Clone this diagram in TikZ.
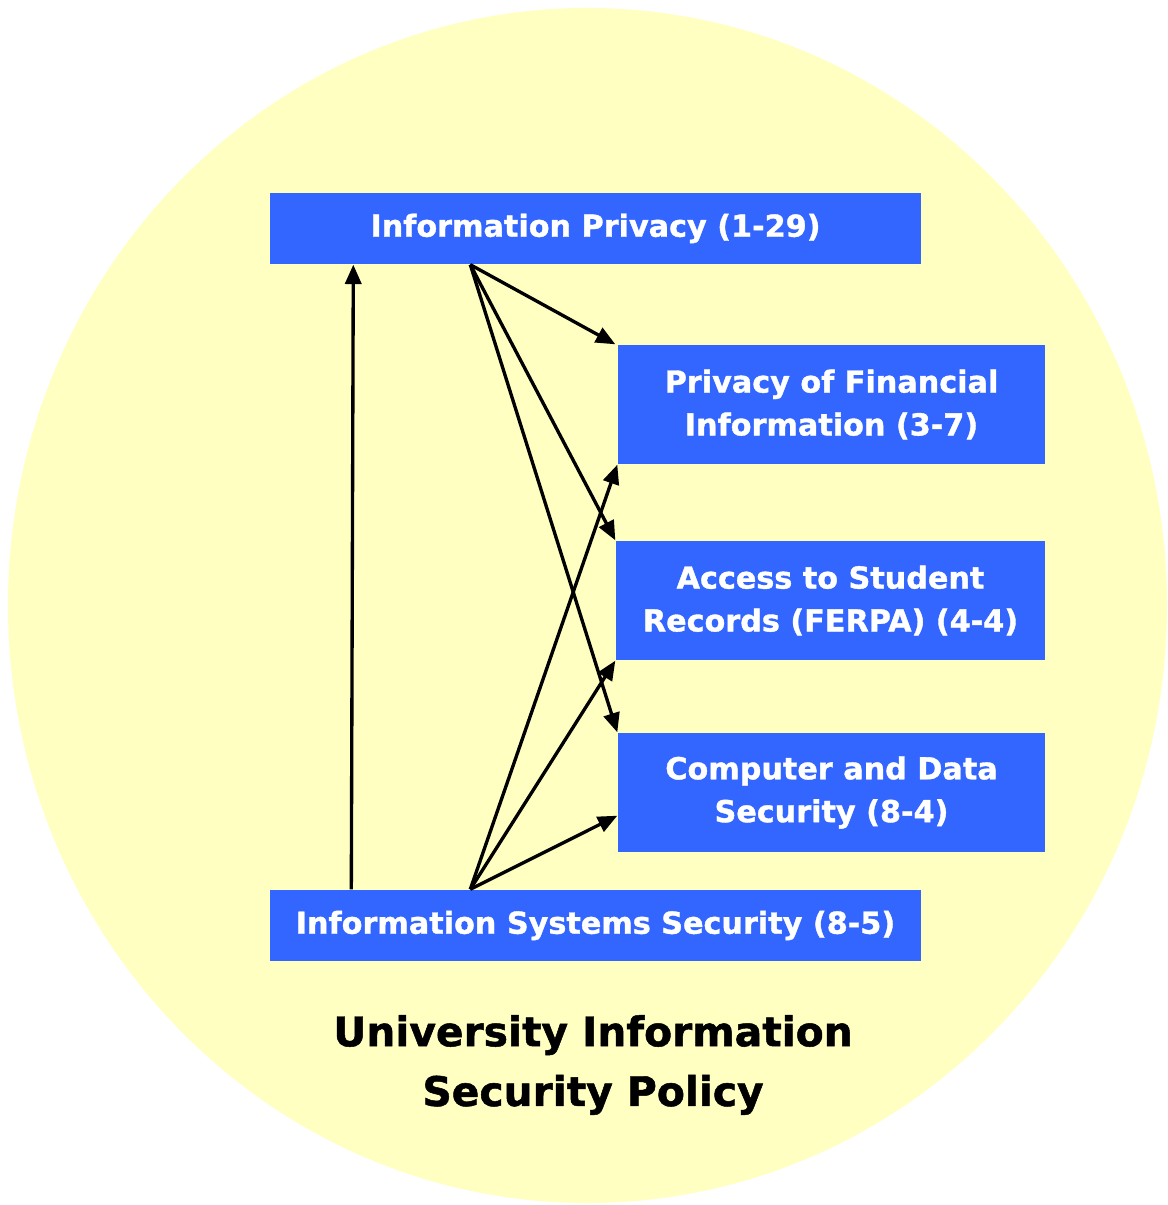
\documentclass[tikz,border=0pt]{standalone}
\usepackage{fontspec}
\setmainfont{DejaVu Sans}[BoldFeatures={FakeBold=1.2}]
\usepackage{tikz}
\usetikzlibrary{arrows.meta, positioning}
\definecolor{policyyellow}{RGB}{255, 255, 194}
\definecolor{boxblue}{RGB}{51, 102, 255}

\begin{document}
\begin{tikzpicture}[
    every node/.style={font=\bfseries\fontsize{8.6}{12.2}\selectfont},
    policy/.style={fill=boxblue, text=white, align=center, inner sep=0pt},
    wide/.style={policy, minimum width=6.51cm, minimum height=0.71cm},
    sub/.style={policy, minimum width=4.27cm, minimum height=1.19cm},
    link/.style={-{Triangle[length=5.5pt, width=4.6pt]}, line width=0.95pt, black},
]
  \useasboundingbox (0,0) rectangle (11.67,-12.05);

  % Background circle
  \fill[policyyellow] (5.875,-6.055) ellipse [x radius=5.795cm, y radius=5.975cm];

  % Main policies
  \node[wide] (priv) at (5.955,-2.285) {Information Privacy (1-29)};
  \node[wide] (iss) at (5.955,-9.255) {Information Systems Security (8-5)};

  % Sub policies
  \node[sub] (fin) at (8.315,-4.045) {Privacy of Financial\\Information (3-7)};
  \node[sub, minimum width=4.29cm] (ferpa) at (8.305,-6.005) {Access to Student\\Records (FERPA) (4-4)};
  \node[sub] (comp) at (8.315,-7.925) {Computer and Data\\Security (8-4)};

  % Links
  \draw[link] ([xshift=0.82cm]iss.north west) -- ([xshift=0.84cm]priv.south west);
  \coordinate (privout) at ([xshift=2.01cm]priv.south west);
  \coordinate (issout) at ([xshift=2.01cm]iss.north west);
  \draw[link] (privout) -- ([xshift=-0.02cm]fin.north west);
  \draw[link] (privout) -- (ferpa.north west);
  \draw[link] (privout) -- (comp.north west);
  \draw[link] (issout) -- (fin.south west);
  \draw[link] (issout) -- (ferpa.south west);
  \draw[link] (issout) -- ([yshift=0.37cm]comp.south west);

  % Title
  \node[font=\bfseries\fontsize{11.6}{17}\selectfont, align=center] (title) at (5.93,-10.65)
    {University Information\\Security Policy};
\end{tikzpicture}
\end{document}
